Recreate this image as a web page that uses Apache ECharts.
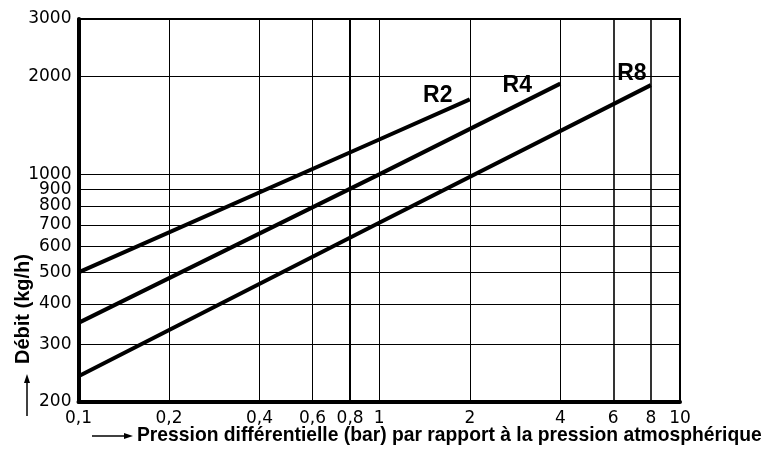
<!DOCTYPE html>
<html>
<head>
<meta charset="utf-8">
<script src="https://cdn.jsdelivr.net/npm/echarts@6/dist/echarts.min.js"></script>
<style>
  html, body { margin: 0; padding: 0; background: #fff; }
  #chart { width: 773px; height: 457px; }
</style>
</head>
<body>
<div id="chart"></div>
<script>
// Pressure ticks (bar) and flow ticks (kg/h) on the log-log grid
const pressureTicks = [0.1, 0.2, 0.4, 0.6, 0.8, 1, 2, 4, 6, 8, 10];
const flowTicks = [200, 300, 400, 500, 600, 700, 800, 900, 1000, 2000, 3000];

// Valve curves: differential pressure (bar) vs flow (kg/h)
const seriesNames = ['R2', 'R4', 'R8'];
const pressureR2 = [0.1, 1, 2];
const flowR2 = [500, 1280, 1700];
const pressureR4 = [0.1, 1, 4];
const flowR4 = [350, 1000, 1900];
const pressureR8 = [0.1, 1, 8];
const flowR8 = [240, 710, 1880];

const FONT = '"Liberation Sans", Arial, sans-serif';
const TICK_FONT = '"DejaVu Sans", sans-serif';

const curves = [
  { name: seriesNames[0], x: pressureR2, y: flowR2, offset: [-32, -4] },
  { name: seriesNames[1], x: pressureR4, y: flowR4, offset: [-43, 2] },
  { name: seriesNames[2], x: pressureR8, y: flowR8, offset: [-19, -11] }
];

// a few vertical grid lines are drawn heavier
const heavyX = { 0.8: 2, 6: 1.6, 8: 1.6 };

const chart = echarts.init(document.getElementById('chart'), null, { renderer: 'canvas' });

const gridSeries = {
  type: 'line',
  data: [],
  silent: true,
  markLine: {
    silent: true,
    symbol: 'none',
    label: { show: false },
    animation: false,
    data: [
      ...pressureTicks.slice(1, -1).map(v => ({
        xAxis: v,
        lineStyle: { color: '#000', type: 'solid', width: heavyX[v] || 1 }
      })),
      ...flowTicks.slice(1, -1).map(v => ({
        yAxis: v,
        lineStyle: { color: '#000', type: 'solid', width: 1 }
      }))
    ]
  }
};

const curveSeries = curves.map(c => ({
  name: c.name,
  type: 'line',
  showSymbol: false,
  animation: false,
  lineStyle: { color: '#000', width: 4 },
  data: c.x.map((p, i) => [p, c.y[i]]),
  markPoint: {
    symbol: 'circle',
    symbolSize: 0,
    animation: false,
    label: {
      show: true,
      position: 'inside',
      formatter: c.name,
      offset: c.offset,
      color: '#000',
      fontFamily: FONT,
      fontWeight: 'bold',
      fontSize: 23
    },
    data: [{ coord: [c.x[c.x.length - 1], c.y[c.y.length - 1]] }]
  }
}));

chart.setOption({
  animation: false,
  backgroundColor: '#fff',
  grid: {
    left: 78.5, right: 93, top: 19, bottom: 55,
    show: true, borderColor: '#000', borderWidth: 2
  },
  xAxis: {
    type: 'log', logBase: 10, min: 0.1, max: 10,
    axisLine: { show: true, onZero: false, lineStyle: { color: '#000', width: 4 } },
    axisTick: { show: false },
    splitLine: { show: false },
    minorTick: { show: false },
    axisLabel: {
      customValues: pressureTicks,
      formatter: v => String(+v.toPrecision(3)).replace('.', ','),
      color: '#000', fontFamily: TICK_FONT, fontSize: 17, margin: 8
    }
  },
  yAxis: {
    type: 'log', logBase: 10, min: 200, max: 3000,
    axisLine: { show: true, onZero: false, lineStyle: { color: '#000', width: 4 } },
    axisTick: { show: false },
    splitLine: { show: false },
    axisLabel: {
      customValues: flowTicks,
      formatter: v => String(Math.round(v)),
      color: '#000', fontFamily: TICK_FONT, fontSize: 17, margin: 7
    }
  },
  series: [gridSeries, ...curveSeries],
  graphic: [
    {
      type: 'text', x: 137, y: 436,
      style: {
        text: 'Pression différentielle (bar) par rapport à la pression atmosphérique',
        font: 'bold 19.3px ' + FONT, fill: '#000',
        align: 'left', verticalAlign: 'middle'
      }
    },
    { type: 'line', shape: { x1: 92, y1: 436, x2: 126, y2: 436 }, style: { stroke: '#000', lineWidth: 1.5 } },
    { type: 'polygon', shape: { points: [[133, 436], [124, 433], [124, 439]] }, style: { fill: '#000' } },
    {
      type: 'text', x: 23, y: 309, rotation: Math.PI / 2,
      style: {
        text: 'Débit (kg/h)', font: 'bold 20px ' + FONT, fill: '#000',
        align: 'center', verticalAlign: 'middle'
      }
    },
    { type: 'line', shape: { x1: 27, y1: 416, x2: 27, y2: 382 }, style: { stroke: '#000', lineWidth: 1.5 } },
    { type: 'polygon', shape: { points: [[27, 374], [24, 383], [30, 383]] }, style: { fill: '#000' } }
  ]
});
</script>
</body>
</html>
